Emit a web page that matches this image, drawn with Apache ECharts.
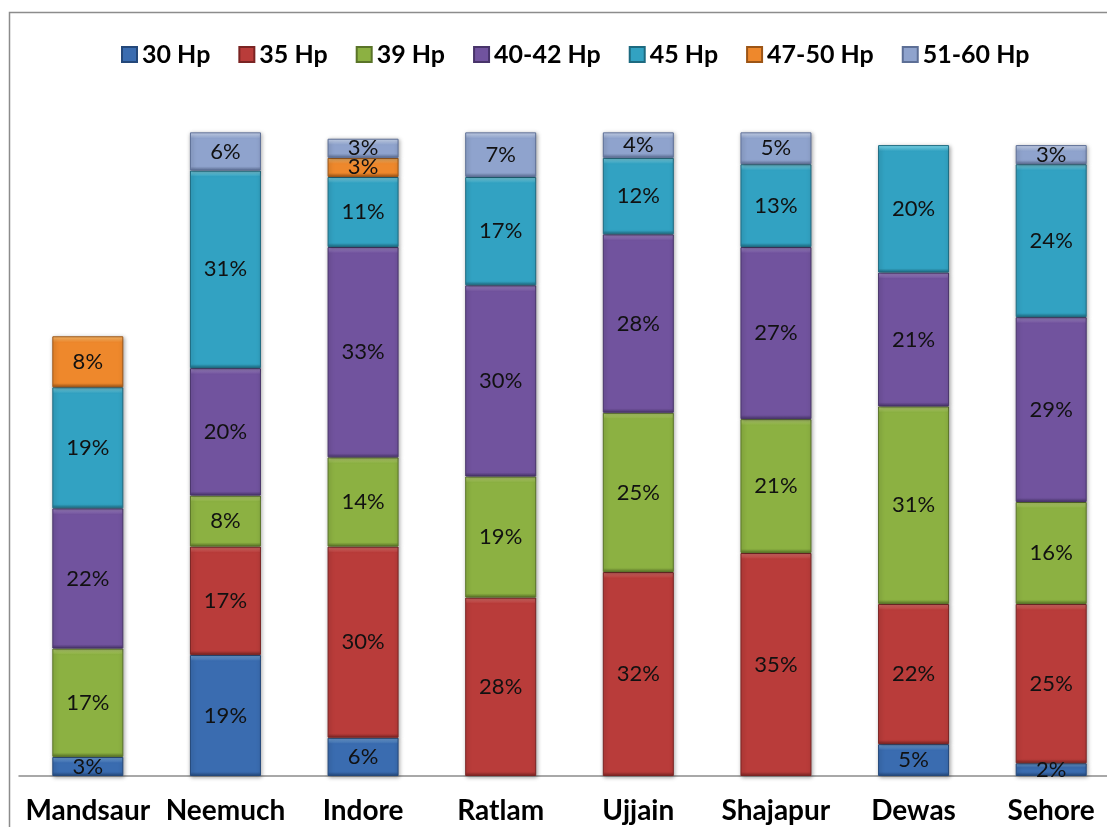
<!DOCTYPE html>
<html>
<head>
<meta charset="utf-8">
<title>Tractor HP share by district</title>
<script src="https://cdn.jsdelivr.net/npm/echarts@6/dist/echarts.min.js"></script>
<style>
  html, body { margin: 0; padding: 0; background: #ffffff; }
  #chart { width: 1107px; height: 827px; }
</style>
</head>
<body>
<div id="chart"></div>
<script>
// Districts along the x axis
const districts = ['Mandsaur', 'Neemuch', 'Indore', 'Ratlam', 'Ujjain', 'Shajapur', 'Dewas', 'Sehore'];

// Share (%) of each HP class per district; '-' where the class is absent
const hp30   = [3, 19, 6, '-', '-', '-', 5, 2];
const hp35   = ['-', 17, 30, 28, 32, 35, 22, 25];
const hp39   = [17, 8, 14, 19, 25, 21, 31, 16];
const hp4042 = [22, 20, 33, 30, 28, 27, 21, 29];
const hp45   = [19, 31, 11, 17, 12, 13, 20, 24];
const hp4750 = [8, '-', 3, '-', '-', '-', '-', '-'];
const hp5160 = ['-', 6, 3, 7, 4, 5, '-', 3];

const seriesNames = ['30 Hp', '35 Hp', '39 Hp', '40-42 Hp', '45 Hp', '47-50 Hp', '51-60 Hp'];
const seriesValues = [hp30, hp35, hp39, hp4042, hp45, hp4750, hp5160];

// Bevel-like palette: [highlight, face, edge]
const palette = [
  ['#7fb6f0', '#3a6cb0', '#24487a'],
  ['#f07a76', '#b93c3a', '#7a2423'],
  ['#c8e47e', '#8cb142', '#5a7428'],
  ['#b497de', '#71539e', '#48346a'],
  ['#86e4f7', '#32a2c2', '#1d6a80'],
  ['#ffc070', '#ee882c', '#9c5516'],
  ['#d0dcf3', '#8fa3cd', '#5d6f96']
];

const PX_PER_UNIT = 6.37; // approximate pixel height of 1% on the value axis

function faceFill(c, v) {
  const h = Math.max(v * PX_PER_UNIT, 1);
  const s1 = Math.min(0.35, 6 / h);
  const s2 = Math.max(s1 + 0.01, 1 - Math.min(0.3, 4 / h));
  return new echarts.graphic.LinearGradient(0, 0, 0, 1, [
    { offset: 0, color: c[0] },
    { offset: s1, color: c[1] },
    { offset: s2, color: c[1] },
    { offset: 1, color: c[2] }
  ]);
}

const FONT = 'Lato, "Open Sans", "Liberation Sans", sans-serif';

const series = seriesNames.map((name, i) => ({
  name: name,
  type: 'bar',
  stack: 'total',
  barWidth: 71,
  clip: false,
  data: seriesValues[i].map(v => v === '-' ? '-' : {
    value: v,
    itemStyle: { color: faceFill(palette[i], v) }
  }),
  itemStyle: {
    color: palette[i][1],
    borderColor: palette[i][2],
    borderWidth: 1,
    shadowBlur: 4,
    shadowColor: 'rgba(0,0,0,0.35)',
    shadowOffsetX: 1,
    shadowOffsetY: 1
  },
  label: {
    show: true,
    position: 'inside',
    formatter: '{c}%',
    color: '#111',
    fontFamily: FONT,
    fontSize: 22
  }
}));

const chart = echarts.init(document.getElementById('chart'), null, { renderer: 'canvas' });

chart.setOption({
  animation: false,
  backgroundColor: '#ffffff',
  color: palette.map(c => c[1]),
  graphic: [{
    type: 'rect',
    silent: true,
    shape: { x: 9.5, y: 12.5, width: 1300, height: 1000 },
    style: { fill: 'none', stroke: '#8c8c8c', lineWidth: 1.5 }
  }],
  legend: {
    top: 37,
    left: 116,
    itemWidth: 15,
    itemHeight: 15,
    itemGap: 28,
    icon: 'rect',
    textStyle: { fontFamily: FONT, fontWeight: 'bold', fontSize: 25, color: '#000' },
    data: seriesNames
  },
  grid: { left: 19, width: 1101, top: 75, bottom: 51, containLabel: false, outerBoundsMode: 'none' },
  xAxis: {
    type: 'category',
    data: districts,
    axisLine: { show: true, lineStyle: { color: '#8c8c8c', width: 1.5 } },
    axisTick: { show: false },
    axisLabel: {
      interval: 0,
      color: '#000',
      fontFamily: FONT,
      fontWeight: 'bold',
      fontSize: 28,
      margin: 21
    }
  },
  yAxis: {
    type: 'value',
    min: 0,
    max: 110,
    show: false,
    splitLine: { show: false }
  },
  series: series
});
</script>
</body>
</html>
